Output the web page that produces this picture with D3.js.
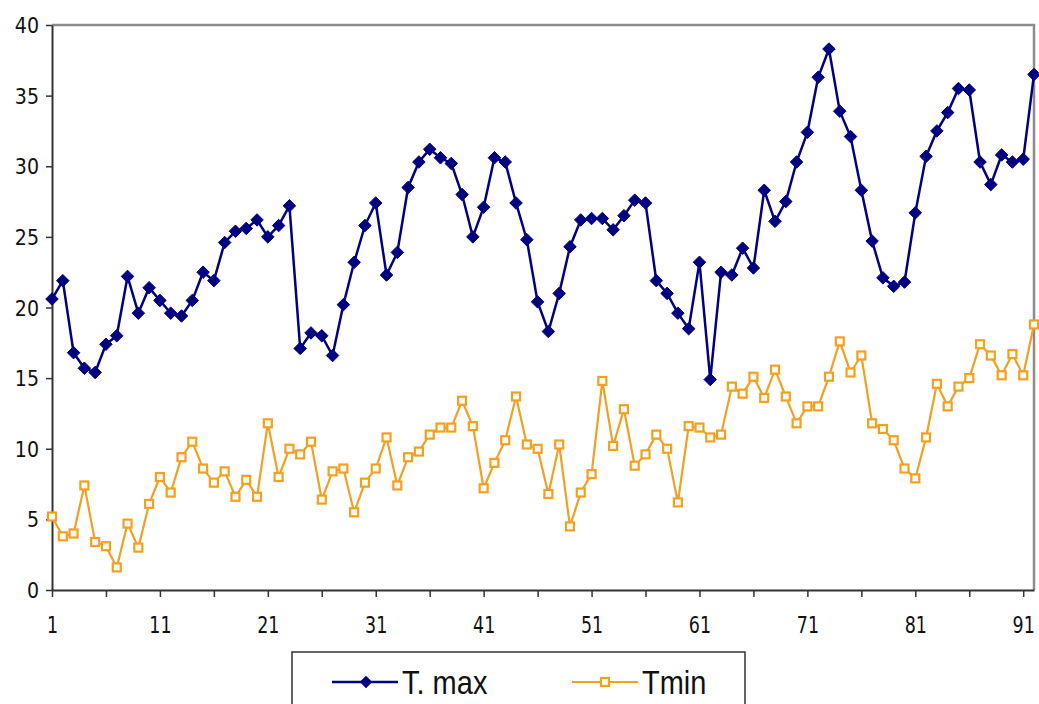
<!DOCTYPE html>
<html>
<head>
<meta charset="utf-8">
<script src="https://cdn.jsdelivr.net/npm/d3@7"></script>
<style>
  body { margin: 0; background: #fff; }
  svg { display: block; }
</style>
</head>
<body>
<svg id="chart" width="1039" height="704"></svg>
<script>
// day index 1..92
var days = d3.range(1, 93)

var tmax = [20.6, 21.9, 16.8, 15.7, 15.4, 17.4, 18.0, 22.2, 19.6, 21.4,
            20.5, 19.6, 19.4, 20.5, 22.5, 21.9, 24.6, 25.4, 25.6, 26.2,
            25.0, 25.8, 27.2, 17.1, 18.2, 18.0, 16.6, 20.2, 23.2, 25.8,
            27.4, 22.3, 23.9, 28.5, 30.3, 31.2, 30.6, 30.2, 28.0, 25.0,
            27.1, 30.6, 30.3, 27.4, 24.8, 20.4, 18.3, 21.0, 24.3, 26.2,
            26.3, 26.3, 25.5, 26.5, 27.6, 27.4, 21.9, 21.0, 19.6, 18.5,
            23.2, 14.9, 22.5, 22.3, 24.2, 22.8, 28.3, 26.1, 27.5, 30.3,
            32.4, 36.3, 38.3, 33.9, 32.1, 28.3, 24.7, 22.1, 21.5, 21.8,
            26.7, 30.7, 32.5, 33.8, 35.5, 35.4, 30.3, 28.7, 30.8, 30.3,
            30.5, 36.5]

var tmin = [5.2, 3.8, 4.0, 7.4, 3.4, 3.1, 1.6, 4.7, 3.0, 6.1,
            8.0, 6.9, 9.4, 10.5, 8.6, 7.6, 8.4, 6.6, 7.8, 6.6,
            11.8, 8.0, 10.0, 9.6, 10.5, 6.4, 8.4, 8.6, 5.5, 7.6,
            8.6, 10.8, 7.4, 9.4, 9.8, 11.0, 11.5, 11.5, 13.4, 11.6,
            7.2, 9.0, 10.6, 13.7, 10.3, 10.0, 6.8, 10.3, 4.5, 6.9,
            8.2, 14.8, 10.2, 12.8, 8.8, 9.6, 11.0, 10.0, 6.2, 11.6,
            11.5, 10.8, 11.0, 14.4, 13.9, 15.1, 13.6, 15.6, 13.7, 11.8,
            13.0, 13.0, 15.1, 17.6, 15.4, 16.6, 11.8, 11.4, 10.6, 8.6,
            7.9, 10.8, 14.6, 13.0, 14.4, 15.0, 17.4, 16.6, 15.2, 16.7,
            15.2, 18.8]

var yTicks = [0, 5, 10, 15, 20, 25, 30, 35, 40]
var xLabels = [1, 11, 21, 31, 41, 51, 61, 71, 81, 91]
var seriesNames = ["T. max", "Tmin"]

var navy = "#000080"
var orange = "#F2A024"

var svg = d3.select("#chart")
var plotL = 52, plotR = 1034, plotT = 25, plotB = 590

var x = d3.scaleLinear().domain([1, 92]).range([plotL, plotR])
var y = d3.scaleLinear().domain([0, 40]).range([plotB, plotT])

// plot area border (top + right in grey)
svg.append("path")
  .attr("d", `M${plotL},${plotT}H${plotR}V${plotB}`)
  .attr("fill", "none")
  .attr("stroke", "#8c8c8c")
  .attr("stroke-width", 2.5)

// y axis
var yAxis = svg.append("g")
  .attr("transform", `translate(${plotL},0)`)
  .call(d3.axisLeft(y).tickValues(yTicks).tickSize(6).tickPadding(7).tickSizeOuter(0))
yAxis.attr("font-family", "DejaVu Sans, sans-serif").attr("font-size", 19)
yAxis.select(".domain").attr("stroke", "#333").attr("stroke-width", 2)
yAxis.selectAll(".tick line").attr("stroke", "#333").attr("stroke-width", 1.5)
yAxis.selectAll(".tick text").attr("fill", "#111")
  .attr("dy", null).attr("x", null).attr("dominant-baseline", null)
  .attr("transform", "translate(-13,7.5) scale(1,1.08)")

// x axis: tick every 5 days, label every 10
var xAxis = svg.append("g")
  .attr("transform", `translate(0,${plotB})`)
  .call(d3.axisBottom(x)
    .tickValues(d3.range(1, 93, 5))
    .tickSize(7).tickPadding(10).tickSizeOuter(0)
    .tickFormat(function(d) { return xLabels.indexOf(d) >= 0 ? d : "" }))
xAxis.attr("font-family", "DejaVu Sans, sans-serif").attr("font-size", 17.5)
xAxis.select(".domain").attr("stroke", "#333").attr("stroke-width", 2)
xAxis.selectAll(".tick line").attr("stroke", "#333").attr("stroke-width", 1.5)
xAxis.selectAll(".tick text").attr("fill", "#111")
  .attr("y", 0).attr("dy", null)
  .attr("transform", "translate(0,43) scale(1,1.35)")

var line = d3.line()
  .x(function(d, i) { return x(days[i]) })
  .y(function(d) { return y(d) })

// T. max
svg.append("path")
  .datum(tmax)
  .attr("d", line)
  .attr("fill", "none")
  .attr("stroke", navy)
  .attr("stroke-width", 2.5)

var diamond = d3.symbol().type(d3.symbolDiamond2).size(100)

svg.selectAll(".maxPt").data(tmax).enter().append("path")
  .attr("class", "maxPt")
  .attr("transform", function(d, i) { return `translate(${x(days[i])},${y(d)})` })
  .attr("d", diamond)
  .attr("fill", navy)
  .attr("stroke", navy)
  .attr("stroke-width", 1)

// Tmin
svg.append("path")
  .datum(tmin)
  .attr("d", line)
  .attr("fill", "none")
  .attr("stroke", orange)
  .attr("stroke-width", 2.2)

svg.selectAll(".minPt").data(tmin).enter().append("rect")
  .attr("class", "minPt")
  .attr("x", function(d, i) { return x(days[i]) - 4 })
  .attr("y", function(d) { return y(d) - 4 })
  .attr("width", 8)
  .attr("height", 8)
  .attr("fill", "#fffdf0")
  .attr("stroke", orange)
  .attr("stroke-width", 2.2)

// legend
var legend = svg.append("g")
legend.append("rect")
  .attr("x", 292).attr("y", 652)
  .attr("width", 453).attr("height", 70)
  .attr("fill", "#fff")
  .attr("stroke", "#333")
  .attr("stroke-width", 1.5)

var legY = 682
legend.append("line")
  .attr("x1", 332).attr("x2", 398).attr("y1", legY).attr("y2", legY)
  .attr("stroke", navy).attr("stroke-width", 2.5)
legend.append("path")
  .attr("transform", `translate(366,${legY})`)
  .attr("d", diamond)
  .attr("fill", navy)
legend.append("text")
  .attr("transform", `translate(402,${legY + 12}) scale(1,1.15)`)
  .attr("font-family", "Liberation Sans, Arial, sans-serif")
  .attr("font-size", 29)
  .attr("fill", "#111")
  .text(seriesNames[0])

legend.append("line")
  .attr("x1", 572).attr("x2", 638).attr("y1", legY).attr("y2", legY)
  .attr("stroke", orange).attr("stroke-width", 2.2)
legend.append("rect")
  .attr("x", 601).attr("y", legY - 4)
  .attr("width", 8).attr("height", 8)
  .attr("fill", "#fffdf0")
  .attr("stroke", orange)
  .attr("stroke-width", 2.2)
legend.append("text")
  .attr("transform", `translate(642,${legY + 12}) scale(1,1.15)`)
  .attr("font-family", "Liberation Sans, Arial, sans-serif")
  .attr("font-size", 29)
  .attr("fill", "#111")
  .text(seriesNames[1])
</script>
</body>
</html>
